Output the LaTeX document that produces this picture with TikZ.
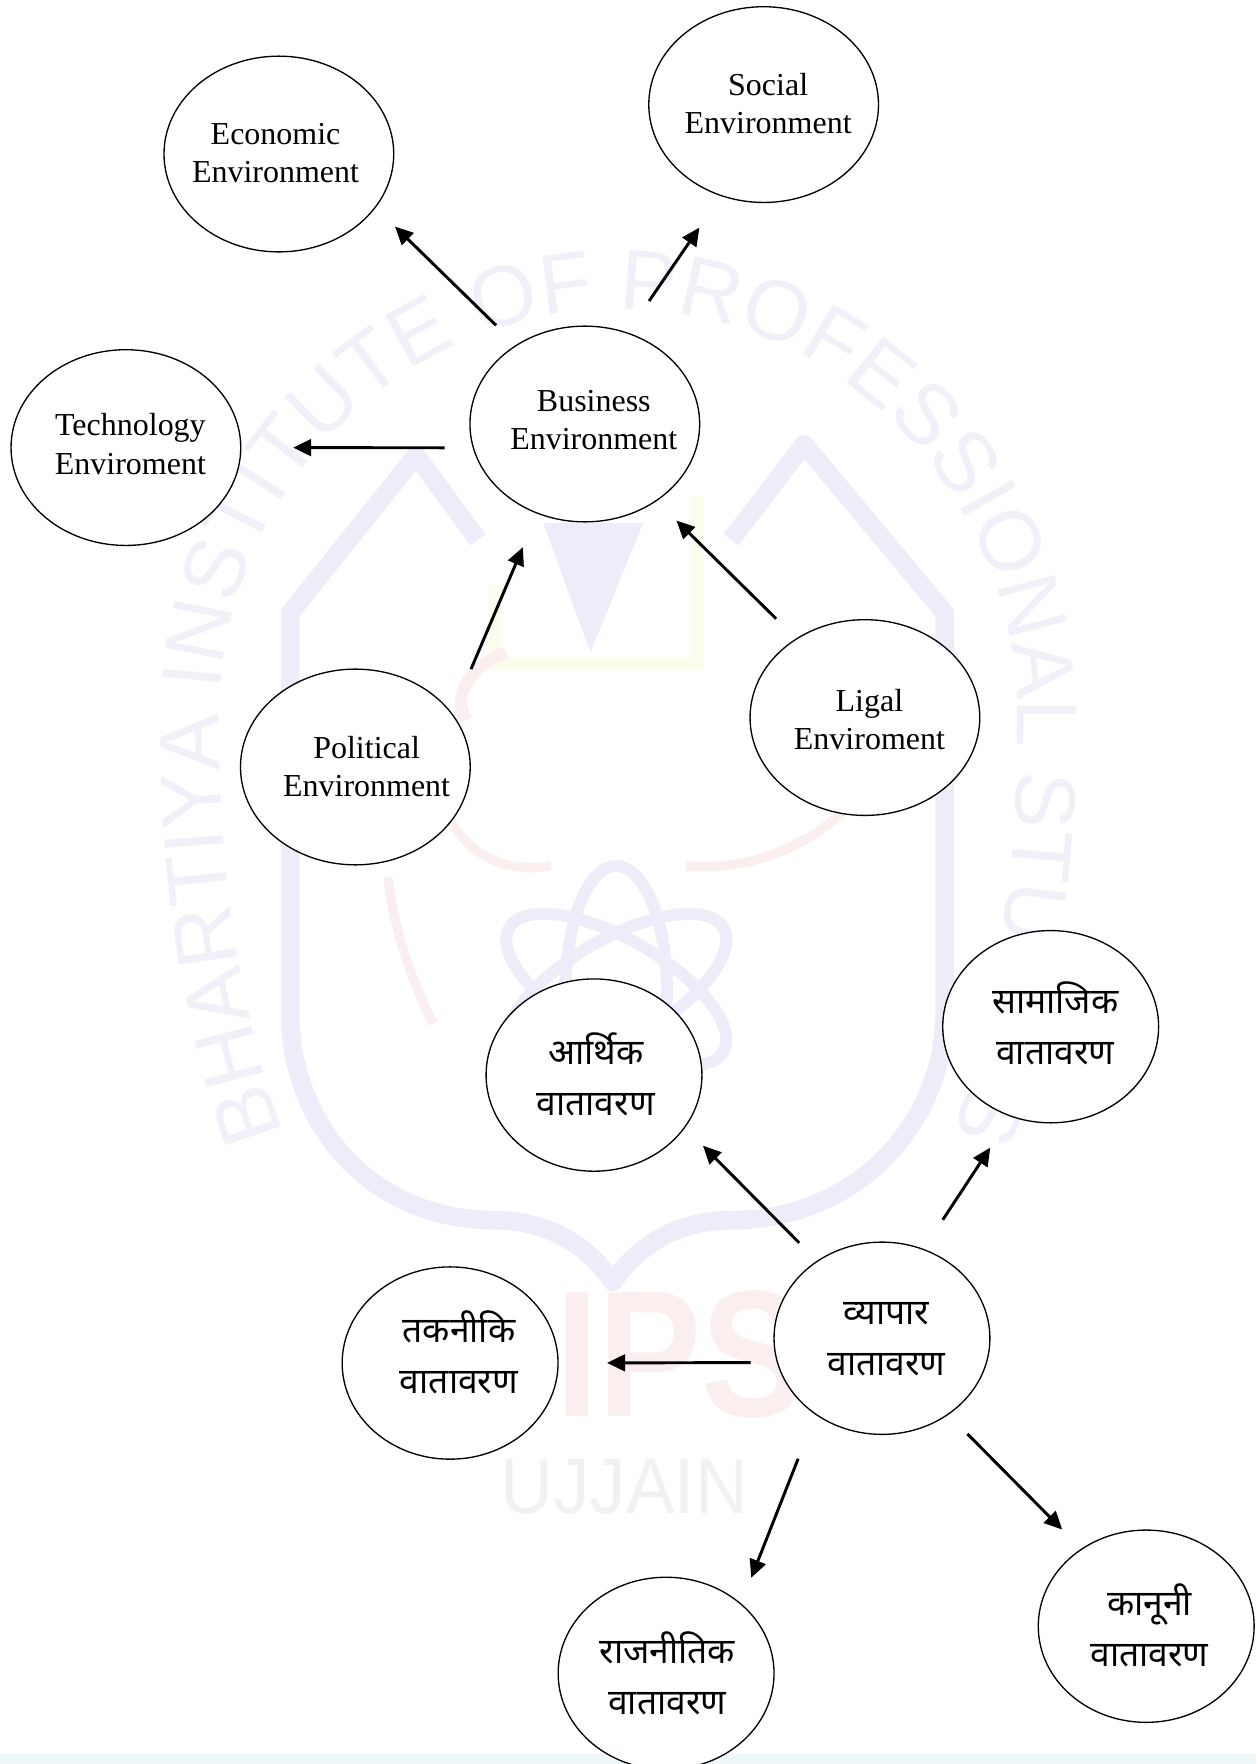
\documentclass[tikz,border=0pt]{standalone}
\usepackage{fontspec}
\usepackage{tikz}
\usetikzlibrary{positioning, shapes.geometric, arrows.meta, decorations.text}

\setmainfont{Liberation Serif}
\newfontfamily\hindifont[Script=Devanagari]{Noto Sans}
\newfontfamily\markfont{Liberation Sans}

\definecolor{markblue}{HTML}{ECEDF8}
\definecolor{marktext}{HTML}{F0F0F9}
\definecolor{markred}{HTML}{FBEEEE}
\definecolor{markyellow}{HTML}{FDFDEE}
\definecolor{markgrey}{HTML}{F1F1F1}
\definecolor{stripcyan}{HTML}{EEF8F8}

\newcommand{\envlines}[4]{\makebox[0pt]{\hspace*{#1}\smash{\raisebox{\dimexpr#2-6pt\relax}{\begin{tabular}{@{}c@{}}#3\\#4\end{tabular}}}}}

\tikzset{
    envnode/.style={ellipse, draw, fill=white, line width=1pt, inner sep=0pt, on grid,
        minimum width=172.4pt, minimum height=146.9pt,
        font=\fontsize{24}{28.7}\selectfont},
    hindinode/.style={envnode, minimum width=162pt, minimum height=144.3pt,
        font=\hindifont\fontsize{26.6}{38.5}\selectfont},
    envarrow/.style={-{Triangle[length=13.5pt, width=12.5pt]}, line width=2.2pt},
    markline/.style={markblue, line width=14pt, line join=round}
}

\begin{document}
\begin{tikzpicture}[x=0.844pt, y=-0.844pt]
        \useasboundingbox (0,0) rectangle (1117,1568.5);

        \fill[stripcyan] (0,1560) rectangle (1117,1568.5);
        \draw[markline] (425,480) -- (370,405) -- (258,545) -- (258,900)
            .. controls (258,1000) and (330,1085) .. (440,1085)
            .. controls (490,1085) and (525,1110) .. (545,1140)
            .. controls (565,1110) and (600,1085) .. (650,1085)
            .. controls (760,1085) and (840,1000) .. (840,900)
            -- (840,545) -- (715,395) -- (650,480);
        \fill[markblue] (483,465) -- (572,465) -- (525,580) -- cycle;
        \draw[markblue, line width=9pt] (548,880) ellipse [x radius=45, y radius=110];
        \draw[markblue, line width=9pt, rotate around={60:(548,880)}] (548,880) ellipse [x radius=45, y radius=110];
        \draw[markblue, line width=9pt, rotate around={-60:(548,880)}] (548,880) ellipse [x radius=45, y radius=110];
        \draw[markyellow, line width=9pt] (440,520) -- (440,590) -- (620,590) -- (620,440);
        \draw[markred, line width=7pt] (345,780) .. controls (350,830) and (370,880) .. (385,910);
        \draw[markred, line width=7pt] (395,720) .. controls (420,770) and (460,775) .. (490,770);
        \draw[markred, line width=7pt] (610,770) .. controls (670,775) and (730,750) .. (770,700);
        \draw[markred, line width=9pt] (450,580) .. controls (420,590) and (400,620) .. (415,640);
        \path[postaction={decorate, decoration={text along path, text align=center,
            text={|\markfont\fontsize{64}{64}\selectfont\color{marktext}|BHARTIYA INSTITUTE OF PROFESSIONAL STUDIES}}}]
            (250,1000) .. controls (210,890) and (195,760) .. (195,640)
            .. controls (195,438) and (354,275) .. (550,275)
            .. controls (746,275) and (905,438) .. (905,640)
            .. controls (905,760) and (890,890) .. (850,1000);
        \node[markred, font=\markfont\bfseries\fontsize{135}{135}\selectfont, xscale=0.86] (ips) at (605,1204) {IPS};
        \node[markgrey, font=\markfont\fontsize{59}{59}\selectfont, xscale=0.93] (ujjain) at (555,1322) {UJJAIN};

        \node[envnode] at (520,377) (biz) {\envlines{13.5pt}{0.8pt}{Business}{Environment}};
        \node[envnode, above left=202.6pt and 229.6pt of biz] (eco) {\envlines{-5pt}{-1.7pt}{Economic}{Environment}};
        \node[envnode, above right=239.7pt and 134.2pt of biz] (soc) {\envlines{6.8pt}{-1.7pt}{Social}{Environment}};
        \node[envnode, below left=17.7pt and 344.4pt of biz] (tech) {\envlines{6.8pt}{0pt}{Technology}{Enviroment}};
        \node[envnode, below left=257.4pt and 172.2pt of biz] (pol) {\envlines{16.9pt}{-2.1pt}{Political}{Environment}};
        \node[envnode, below right=220.3pt and 210.2pt of biz] (leg) {\envlines{6.8pt}{-4.2pt}{Ligal}{Enviroment}};

        \node[hindinode, below right=686.1pt and 223pt of biz] (vyp) {\envlines{6.8pt}{-1.3pt}{व्यापार}{वातावरण}};
        \node[hindinode, above left=197.5pt and 216.1pt of vyp] (art) {\envlines{2.5pt}{-3.8pt}{आर्थिक}{वातावरण}};
        \node[hindinode, above right=233.8pt and 126.6pt of vyp] (sam) {\envlines{6.8pt}{-2pt}{सामाजिक}{वातावरण}};
        \node[hindinode, below left=18.6pt and 324.1pt of vyp] (tak) {\envlines{13.4pt}{3.8pt}{तकनीकि}{वातावरण}};
        \node[hindinode, below left=251.5pt and 162pt of vyp] (raj) {\envlines{1.7pt}{-4.2pt}{राजनीतिक}{वातावरण}};
        \node[hindinode, below right=216.1pt and 198.3pt of vyp] (kan) {\envlines{5pt}{-3.4pt}{कानूनी}{वातावरण}};

        \draw[envarrow, shorten <=21pt, shorten >=20.2pt] (biz.131.2) -- (eco.-29.7);
        \draw[envarrow, shorten <=28.6pt, shorten >=28.6pt] (biz.65.7) -- (soc.245.7);
        \draw[envarrow, shorten <=21pt, shorten >=38.8pt] (biz.192) -- (tech.0);
        \draw[envarrow, shorten <=36pt, shorten >=27.3pt] (pol.29.4) -- (biz.242);
        \draw[envarrow, shorten <=21pt, shorten >=20.8pt] (leg.131.3) -- (biz.-47.8);

        \draw[envarrow, shorten <=18.9pt, shorten >=19pt] (vyp.130.6) -- (art.-30.4);
        \draw[envarrow, shorten <=26.1pt, shorten >=27.8pt] (vyp.65.8) -- (sam.246.6);
        \draw[envarrow, shorten <=19.6pt, shorten >=36.3pt] (vyp.193.3) -- (tak.0);
        \draw[envarrow, shorten <=35.5pt, shorten >=20.7pt] (vyp.229.4) -- (raj.43.4);
        \draw[envarrow, shorten <=20.2pt, shorten >=20.2pt] (vyp.-49.4) -- (kan.130.6);
    \end{tikzpicture}
\end{document}
